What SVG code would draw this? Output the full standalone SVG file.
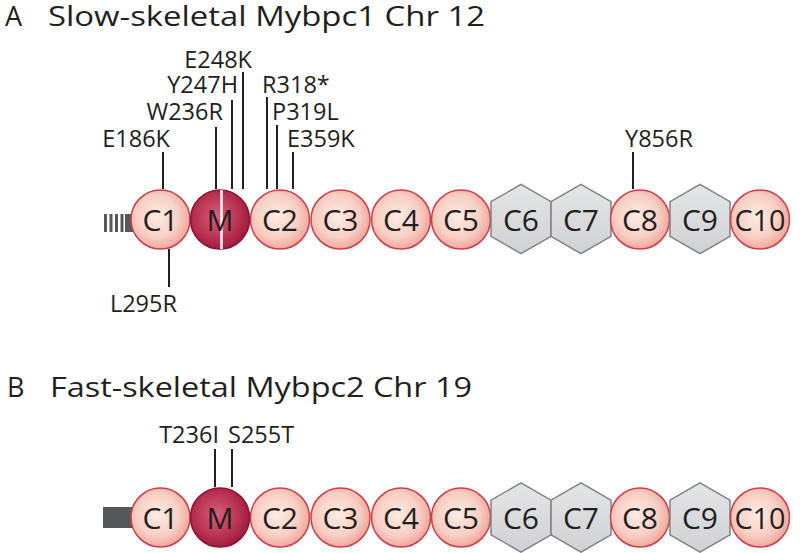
<svg xmlns="http://www.w3.org/2000/svg" width="800" height="553" viewBox="0 0 800 553">
<defs>
<radialGradient id="gp" cx="0.45" cy="0.45" r="0.6">
<stop offset="0" stop-color="#fdebe3"/><stop offset="0.6" stop-color="#f8cfc4"/><stop offset="1" stop-color="#ef9e95"/>
</radialGradient>
<radialGradient id="gm" cx="0.45" cy="0.45" r="0.6">
<stop offset="0" stop-color="#d55f78"/><stop offset="0.6" stop-color="#bb3354"/><stop offset="1" stop-color="#9a1739"/>
</radialGradient>
<linearGradient id="gh" x1="0" y1="0" x2="0" y2="1">
<stop offset="0" stop-color="#e4e5e7"/><stop offset="1" stop-color="#cfd1d4"/>
</linearGradient>
<polygon id="hex" points="0,-34.6 30,-17.3 30,17.3 0,34.6 -30,17.3 -30,-17.3"/>
</defs>
<style>
.t{font-family:"Open Sans","Liberation Sans",sans-serif;fill:#231f20}
.title{font-size:27px}
.lab{font-size:23.5px}
.dom{font-size:30px;text-anchor:middle}
.pc{fill:url(#gp);stroke:#c6414b;stroke-width:1.5}
.mc{fill:url(#gm);stroke:#8e1232;stroke-width:1.5}
.hx{fill:url(#gh);stroke:#7f8184;stroke-width:1.5}
.ln{stroke:#231f20;stroke-width:2;fill:none}
.bar{fill:#555759}
</style>

<g id="titleA"><text class="t title" x="5" y="26">A</text><text class="t title" x="48" y="26" textLength="437" lengthAdjust="spacingAndGlyphs">Slow-skeletal Mybpc1 Chr 12</text></g>
<g id="titleB"><text class="t title" x="7" y="397">B</text><text class="t title" x="50" y="397" textLength="422" lengthAdjust="spacingAndGlyphs">Fast-skeletal Mybpc2 Chr 19</text></g>

<g id="connectors">
<line class="ln" x1="163" y1="152" x2="163" y2="189"/>
<line class="ln" x1="216" y1="127" x2="216" y2="189"/>
<line class="ln" x1="232" y1="100" x2="232" y2="189"/>
<line class="ln" x1="243" y1="72" x2="243" y2="189"/>
<line class="ln" x1="267" y1="97" x2="267" y2="189"/>
<line class="ln" x1="277" y1="125" x2="277" y2="189"/>
<line class="ln" x1="293" y1="152" x2="293" y2="189"/>
<line class="ln" x1="633" y1="152" x2="633" y2="189"/>
<line class="ln" x1="169" y1="249" x2="169" y2="287"/>
<line class="ln" x1="215" y1="449" x2="215" y2="487"/>
<line class="ln" x1="232" y1="449" x2="232" y2="487"/>
</g>

<g id="labelsA">
<text class="t lab" x="170" y="147" text-anchor="end">E186K</text>
<text class="t lab" x="223" y="120" text-anchor="end">W236R</text>
<text class="t lab" x="238" y="93" text-anchor="end">Y247H</text>
<text class="t lab" x="252" y="68" text-anchor="end">E248K</text>
<text class="t lab" x="262" y="93">R318*</text>
<text class="t lab" x="272" y="120">P319L</text>
<text class="t lab" x="287" y="147">E359K</text>
<text class="t lab" x="625" y="147">Y856R</text>
<text class="t lab" x="177" y="312" text-anchor="end">L295R</text>
</g>
<g id="labelsB">
<text class="t lab" x="219" y="443" text-anchor="end">T236I</text>
<text class="t lab" x="228" y="443">S255T</text>
</g>

<g id="rowA">
<g id="A-tail"><rect class="bar" x="104" y="214" width="3" height="18"/><rect class="bar" x="109.5" y="214" width="3" height="18"/><rect class="bar" x="115" y="214" width="3" height="18"/><rect class="bar" x="120.5" y="214" width="3" height="18"/><rect class="bar" x="125" y="214" width="10" height="18"/></g>
<g id="A-C1"><circle class="pc" cx="160.5" cy="219.5" r="29.5"/><text class="t dom" x="160.5" y="231">C1</text></g>
<g id="A-M"><circle class="mc" cx="220" cy="219.5" r="29.5"/><line x1="221.5" y1="190" x2="221.5" y2="249" stroke="#fff" stroke-width="2.5"/><text class="t dom" x="220" y="231">M</text></g>
<g id="A-C2"><circle class="pc" cx="280" cy="219.5" r="29.5"/><text class="t dom" x="280" y="231">C2</text></g>
<g id="A-C3"><circle class="pc" cx="340.5" cy="219.5" r="29.5"/><text class="t dom" x="340.5" y="231">C3</text></g>
<g id="A-C4"><circle class="pc" cx="401" cy="219.5" r="29.5"/><text class="t dom" x="401" y="231">C4</text></g>
<g id="A-C5"><circle class="pc" cx="461" cy="219.5" r="29.5"/><text class="t dom" x="461" y="231">C5</text></g>
<g id="A-C6"><use href="#hex" class="hx" x="521" y="219"/><text class="t dom" x="521" y="231">C6</text></g>
<g id="A-C7"><use href="#hex" class="hx" x="581" y="219"/><text class="t dom" x="581" y="231">C7</text></g>
<g id="A-C8"><circle class="pc" cx="640" cy="219.5" r="29.5"/><text class="t dom" x="640" y="231">C8</text></g>
<g id="A-C9"><use href="#hex" class="hx" x="700" y="219"/><text class="t dom" x="700" y="231">C9</text></g>
<g id="A-C10"><circle class="pc" cx="760" cy="219.5" r="29.5"/><text class="t dom" x="760" y="231" textLength="51" lengthAdjust="spacingAndGlyphs">C10</text></g>
</g>

<g id="rowB">
<g id="B-tail"><rect class="bar" x="103" y="507" width="32" height="21"/></g>
<g id="B-C1"><circle class="pc" cx="160.5" cy="517.5" r="29.5"/><text class="t dom" x="160.5" y="529">C1</text></g>
<g id="B-M"><circle class="mc" cx="220" cy="517.5" r="29.5"/><text class="t dom" x="220" y="529">M</text></g>
<g id="B-C2"><circle class="pc" cx="280" cy="517.5" r="29.5"/><text class="t dom" x="280" y="529">C2</text></g>
<g id="B-C3"><circle class="pc" cx="340.5" cy="517.5" r="29.5"/><text class="t dom" x="340.5" y="529">C3</text></g>
<g id="B-C4"><circle class="pc" cx="401" cy="517.5" r="29.5"/><text class="t dom" x="401" y="529">C4</text></g>
<g id="B-C5"><circle class="pc" cx="461" cy="517.5" r="29.5"/><text class="t dom" x="461" y="529">C5</text></g>
<g id="B-C6"><use href="#hex" class="hx" x="521" y="517.5"/><text class="t dom" x="521" y="529">C6</text></g>
<g id="B-C7"><use href="#hex" class="hx" x="581" y="517.5"/><text class="t dom" x="581" y="529">C7</text></g>
<g id="B-C8"><circle class="pc" cx="640" cy="517.5" r="29.5"/><text class="t dom" x="640" y="529">C8</text></g>
<g id="B-C9"><use href="#hex" class="hx" x="700" y="517.5"/><text class="t dom" x="700" y="529">C9</text></g>
<g id="B-C10"><circle class="pc" cx="760" cy="517.5" r="29.5"/><text class="t dom" x="760" y="529" textLength="51" lengthAdjust="spacingAndGlyphs">C10</text></g>
</g>
</svg>
